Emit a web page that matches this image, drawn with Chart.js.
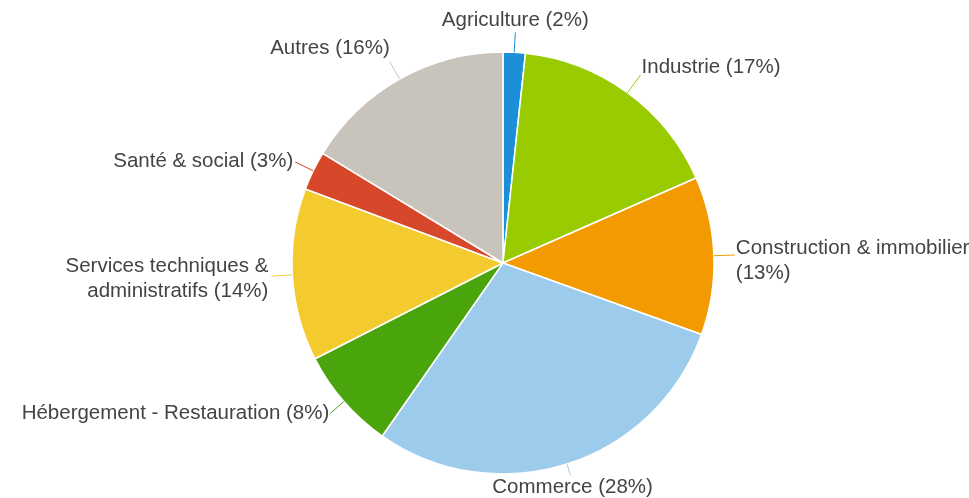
<!DOCTYPE html>
<html>
<head>
<meta charset="utf-8">
<script src="https://cdn.jsdelivr.net/npm/chart.js@4/dist/chart.umd.min.js"></script>
<style>
  html, body { margin: 0; padding: 0; background: #fff; }
  #wrap { width: 969px; height: 498px; position: relative; }
</style>
</head>
<body>
<div id="wrap"><canvas id="pieChart"></canvas></div>
<script>
// ===============================
// DATA
// ===============================
const categories = [
  "Agriculture",
  "Industrie",
  "Construction & immobilier",
  "Commerce",
  "Hébergement - Restauration",
  "Services techniques & administratifs",
  "Santé & social",
  "Autres",
];

// shares (sum 100)
const shares = [1.7, 16.7, 12.1, 29.2, 7.8, 13.2, 3.0, 16.3];

// percentages printed in the labels
const shownPercents = ["2%", "17%", "13%", "28%", "8%", "14%", "3%", "16%"];

// label text, broken into lines like the picture
const labelLines = [
  [`Agriculture (${shownPercents[0]})`],
  [`Industrie (${shownPercents[1]})`],
  ["Construction & immobilier", `(${shownPercents[2]})`],
  [`Commerce (${shownPercents[3]})`],
  [`Hébergement - Restauration (${shownPercents[4]})`],
  ["Services techniques &", `administratifs (${shownPercents[5]})`],
  [`Santé & social (${shownPercents[6]})`],
  [`Autres (${shownPercents[7]})`],
];

const colors = [
  "#1b8fd8",
  "#99cc00",
  "#f29a00",
  "#9dcbeb",
  "#4aa40b",
  "#f4cb2f",
  "#d7472a",
  "#c9c4bb",
];

// ===============================
// OUTSIDE LABELS PLUGIN
// ===============================
const outsideLabels = {
  id: "outsideLabels",
  afterDraw(chart, args, opts) {
    const ctx = chart.ctx;
    const arcs = chart.getDatasetMeta(0).data;

    ctx.save();
    ctx.font = opts.font;
    ctx.fillStyle = opts.color;
    ctx.textBaseline = "middle";

    arcs.forEach((arc, i) => {
      const mid = (arc.startAngle + arc.endAngle) / 2;
      const r = arc.outerRadius;
      const cos = Math.cos(mid);
      const sin = Math.sin(mid);

      const x0 = arc.x + cos * r;
      const y0 = arc.y + sin * r;
      const x1 = arc.x + cos * (r + opts.lengths[i]);
      const y1 = arc.y + sin * (r + opts.lengths[i]);

      ctx.strokeStyle = colors[i];
      ctx.lineWidth = 1;
      ctx.beginPath();
      ctx.moveTo(x0, y0);
      ctx.lineTo(x1, y1);
      ctx.stroke();

      // text side
      if (Math.abs(cos) < 0.35) ctx.textAlign = "center";
      else ctx.textAlign = cos > 0 ? "left" : "right";

      const [dx, dy] = opts.offsets[i];
      labelLines[i].forEach((t, k) => {
        ctx.fillText(t, x1 + dx, y1 + dy + k * opts.lineHeight);
      });
    });

    ctx.restore();
  },
};

// ===============================
// CHART
// ===============================
const ctx = document.getElementById("pieChart").getContext("2d");

new Chart(ctx, {
  type: "pie",
  data: {
    labels: categories,
    datasets: [
      {
        data: shares,
        backgroundColor: colors,
        borderColor: "#ffffff",
        borderWidth: 1.5,
      },
    ],
  },
  options: {
    responsive: true,
    maintainAspectRatio: false,
    animation: false,
    radius: 211,
    layout: {
      padding: { left: 100, right: 63, top: 52, bottom: 24 },
    },
    plugins: {
      legend: { display: false },
      tooltip: { enabled: false },
      outsideLabels: {
        font: '20.5px "Liberation Sans", Arial, sans-serif',
        color: "#444444",
        lineHeight: 25,
        lengths: [20, 22, 21, 12, 18, 21, 20, 20],
        offsets: [
          [0, -12],
          [1, -8],
          [1, -7],
          [2, 12],
          [-1, 0],
          [-3, -10],
          [-2, -1],
          [0, -13],
        ],
      },
    },
  },
  plugins: [outsideLabels],
});
</script>
</body>
</html>
